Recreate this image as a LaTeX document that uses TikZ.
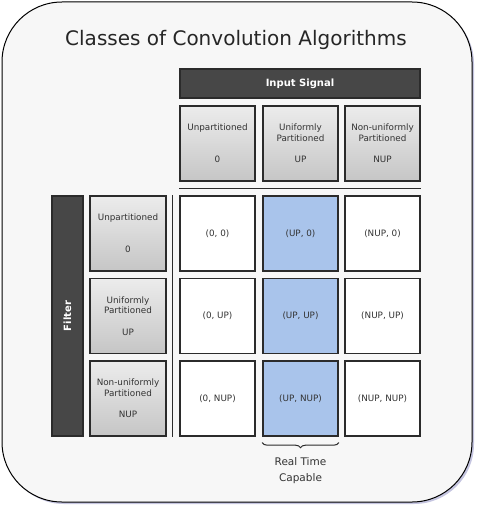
\documentclass[tikz,border=0pt]{standalone}
\usepackage{fontspec}
\setmainfont{DejaVu Sans}
\usetikzlibrary{shadows,decorations.pathreplacing}
\definecolor{boxline}{HTML}{2B2B2B}
\definecolor{barfill}{HTML}{474747}
\definecolor{rtblue}{HTML}{A9C4EB}
\definecolor{paper}{HTML}{F7F7F7}
\definecolor{ink}{HTML}{333333}
\tikzset{
  box/.style={draw=boxline, line width=1.4pt, minimum width=75pt, minimum height=75pt,
    inner sep=0pt, text=ink, align=center, font=\fontsize{8.8}{10.7}\selectfont},
  hdr/.style={box, top color=gray!15, bottom color=gray!45},
  cell/.style={box, fill=white},
  rtcell/.style={box, fill=rtblue},
  bar/.style={draw=boxline, line width=1.2pt, fill=barfill, text=white, inner sep=0pt,
    font=\fontsize{10}{12}\selectfont\bfseries},
}
\begin{document}
\begin{tikzpicture}[x=1pt, y=-1pt]
      \useasboundingbox (0,0) rectangle (483,513);
      \draw[line width=1pt, fill=paper, rounded corners=60pt,
        drop shadow={shadow xshift=2pt, shadow yshift=-2pt, opacity=0.35, fill=gray!70!blue}]
        (2,2) rectangle (472,502);
      \node[text=black!85, font=\fontsize{20}{24}\selectfont] (title) at (236,40) {Classes of Convolution Algorithms};
      % input signal header
      \node[bar, minimum width=240pt, minimum height=29pt] (input) at (300,83.5) {Input Signal};
      \node[hdr] (h1) at (217.5,143.5) {Unpartitioned\\ \\ \\0};
      \node[hdr] (h2) at (300.5,143.5) {Uniformly\\Partitioned\\ \\UP};
      \node[hdr] (h3) at (382.5,143.5) {Non-uniformly\\Partitioned\\ \\NUP};
      \draw[boxline, line width=1.4pt] ([yshift=-7pt]h1.south west) -- ([yshift=-7pt]h3.south east);
      % filter header
      \node[bar, minimum width=240pt, minimum height=31pt, rotate=90] (filter) at (67.5,316) {Filter};
      \node[hdr, minimum width=76pt] (v1) at (128,233.5) {Unpartitioned\\ \\ \\0};
      \node[hdr, minimum width=76pt] (v2) at (128,316) {Uniformly\\Partitioned\\ \\UP};
      \node[hdr, minimum width=76pt] (v3) at (128,398.5) {Non-uniformly\\Partitioned\\ \\NUP};
      % classes
      \node[cell]   (c11) at (217.5,233.5) {(0, 0)};
      \node[rtcell] (c21) at (300.5,233.5) {(UP, 0)};
      \node[cell]   (c31) at (382.5,233.5) {(NUP, 0)};
      \node[cell]   (c12) at (217.5,316) {(0, UP)};
      \node[rtcell] (c22) at (300.5,316) {(UP, UP)};
      \node[cell]   (c32) at (382.5,316) {(NUP, UP)};
      \node[cell]   (c13) at (217.5,398.5) {(0, NUP)};
      \node[rtcell] (c23) at (300.5,398.5) {(UP, NUP)};
      \node[cell]   (c33) at (382.5,398.5) {(NUP, NUP)};
      \draw[boxline, line width=1.4pt] ([xshift=-7pt]c11.north west) -- ([xshift=-7pt]c13.south west);
      \draw[boxline, line width=1pt, line cap=round, decorate, decoration={brace, mirror, amplitude=5pt}]
        ([yshift=-6pt]c23.south west) -- ([yshift=-6pt]c23.south east)
        node[midway, below=11pt, align=center, text=ink, font=\fontsize{10.5}{16}\selectfont] (rt) {Real Time\\Capable};
    \end{tikzpicture}
\end{document}
